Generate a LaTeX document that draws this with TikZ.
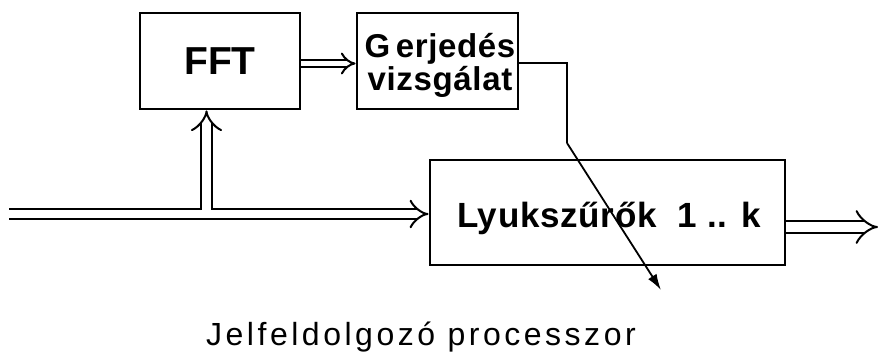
\documentclass[tikz,border=0pt]{standalone}
\usepackage{fontspec}
\setmainfont{Liberation Sans}
\newfontfamily\spacedfont[LetterSpace=11]{Liberation Sans}
\newfontfamily\widebold[LetterSpace=2,BoldFont={Liberation Sans Bold}]{Liberation Sans}
\usetikzlibrary{arrows.meta}
\begin{document}
\begin{tikzpicture}[x=1pt,y=-1pt,
  block/.style={draw,line width=2.8pt,inner sep=0pt},
  busline/.style={double,double distance=#1,line width=2pt,line cap=butt},
  bus/.style={busline=#1,-{Implies[length=8pt,width=14pt]}},
  ctrl/.style={line width=1.8pt},
  ctrlarrow/.style={line width=1.8pt,-{Latex[length=16pt,width=10pt]}}]
\useasboundingbox (0,0) rectangle (878,351);

% processing blocks
\node[block,minimum width=160pt,minimum height=96pt,
      font=\bfseries\fontsize{39}{40}\selectfont]
  (fft) at (220,61) {FFT};
\node[block,minimum width=161pt,minimum height=96pt] (exc) at (437.5,61) {};
\node[anchor=base,font=\widebold\bfseries\fontsize{33}{33}\selectfont]
  (exc1) at (440,57) {G\,erjedés};
\node[anchor=base,font=\widebold\bfseries\fontsize{33}{33}\selectfont]
  (exc2) at (440,90) {vizsgálat};
\node[block,minimum width=355pt,minimum height=105pt] (notch) at (607.5,212.5) {};
\node[anchor=base,font=\widebold\bfseries\fontsize{35}{35}\selectfont]
  (notchtext) at (609,227) {Lyukszűrők\ \ 1 .. k};

% signal path
\coordinate (in) at (9,214);
\coordinate (splittop) at (206.5,210);
\coordinate (out) at (878,227);

\draw[bus=8pt] (in) -- (notch.west |- in);
\draw[bus=9pt] (splittop) -- (fft.south -| splittop);
\draw[bus=5.5pt] (fft.east |- 0,63.5) -- (exc.west |- 0,63.5);
\draw[bus=10pt] (notch.east |- out) -- (out);

% control path from the excitation test
\coordinate (bend1) at (567,63);
\coordinate (bend2) at (567,143);
\coordinate (ctrlend) at (661,290);
\draw[ctrl] (exc.east |- bend1) -- (bend1) -- (bend2);
\draw[ctrlarrow] (bend2) -- (ctrlend);

% caption
\node[anchor=base,font=\spacedfont\fontsize{32}{32}\selectfont] (cap) at (421,345)
  {Jelfeldolgozó processzor};
\end{tikzpicture}
\end{document}
